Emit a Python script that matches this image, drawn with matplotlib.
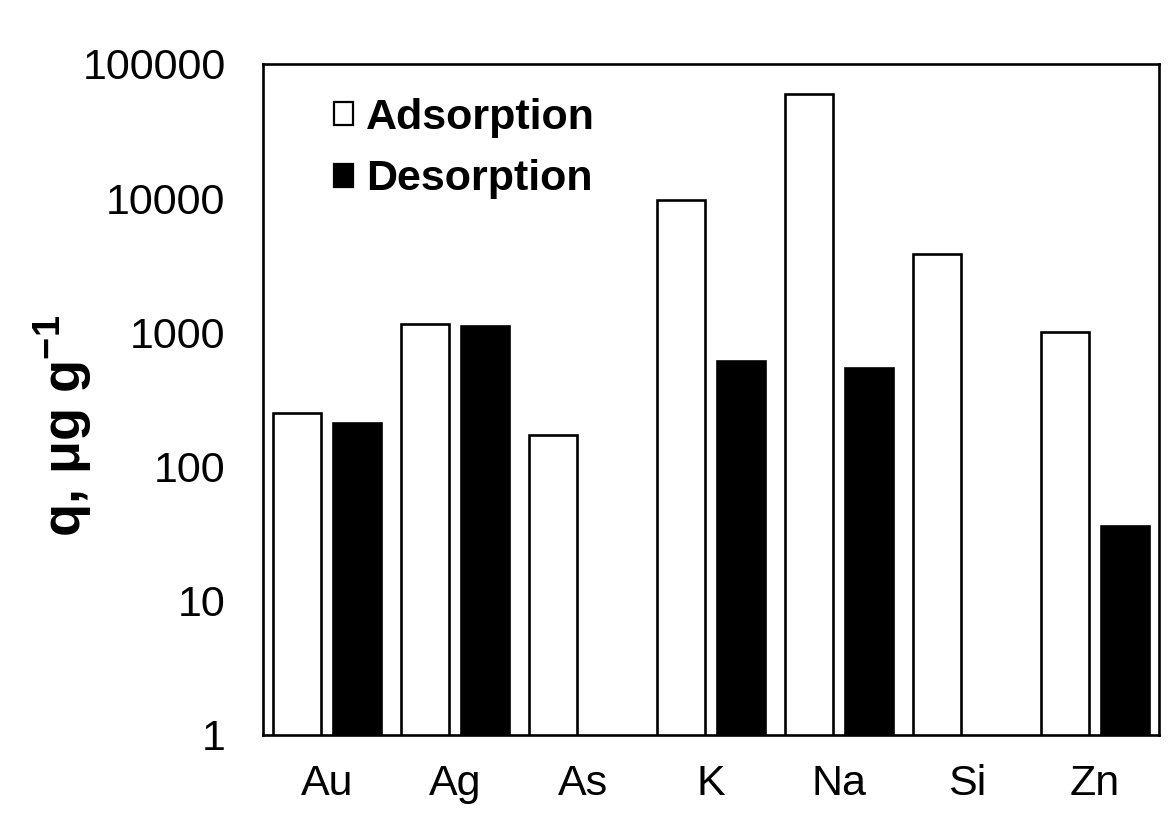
import matplotlib
matplotlib.use("Agg")
import matplotlib.pyplot as plt
import numpy as np

plt.rcParams['font.family'] = ['Liberation Sans', 'DejaVu Sans']
plt.rcParams['mathtext.fontset'] = 'custom'
plt.rcParams['mathtext.rm'] = 'Liberation Sans'
plt.rcParams['mathtext.bf'] = 'Liberation Sans:bold'

categories = ["Au", "Ag", "As", "K", "Na", "Si", "Zn"]
adsorption = [253, 1160, 171, 9750, 60000, 3850, 1015]
desorption = [210, 1125, np.nan, 617, 540, np.nan, 36]
y_ticks = [1, 10, 100, 1000, 10000, 100000]
y_tick_labels = ["1", "10", "100", "1000", "10000", "100000"]

fig = plt.figure(figsize=(11.72, 8.32), dpi=100)
ax = fig.add_axes([263/1172, 1-735/832, (1159-263)/1172, (735-64)/832])

x = np.arange(len(categories))
w = 0.37
off = 0.235
ax.bar(x - off, adsorption, w, color='white', edgecolor='black', linewidth=1.9,
       label='Adsorption', zorder=2)
ax.bar(x + off, desorption, w, color='black', edgecolor='black', linewidth=1.9,
       label='Desorption', zorder=2)

ax.set_yscale('log')
ax.set_ylim(1, 100000)
ax.set_xlim(-0.5, len(categories) - 0.5)
ax.set_yticks(y_ticks)
ax.set_yticklabels(y_tick_labels)
ax.yaxis.set_minor_locator(matplotlib.ticker.NullLocator())
ax.set_xticks(x)
ax.set_xticklabels(categories)
ax.tick_params(axis='both', length=0, labelsize=31)
ax.tick_params(axis='y', pad=27)
ax.tick_params(axis='x', pad=21)

for s in ax.spines.values():
    s.set_linewidth(1.9)

ax.set_ylabel(r'q, μg g$^{\mathbf{-1}}$', fontsize=39, fontweight='bold')
ax.yaxis.set_label_coords(-0.188, 0.46)

leg = ax.legend(loc='upper left', bbox_to_anchor=(0.079, 0.9495), frameon=False,
                prop={'weight': 'bold', 'size': 31}, handlelength=0.45, handleheight=0.45,
                handletextpad=0.3, labelspacing=0.5, borderpad=0, borderaxespad=0)
for h in leg.legend_handles:
    h.set_linewidth(1.6)

fig.savefig('out.png', dpi=100)
